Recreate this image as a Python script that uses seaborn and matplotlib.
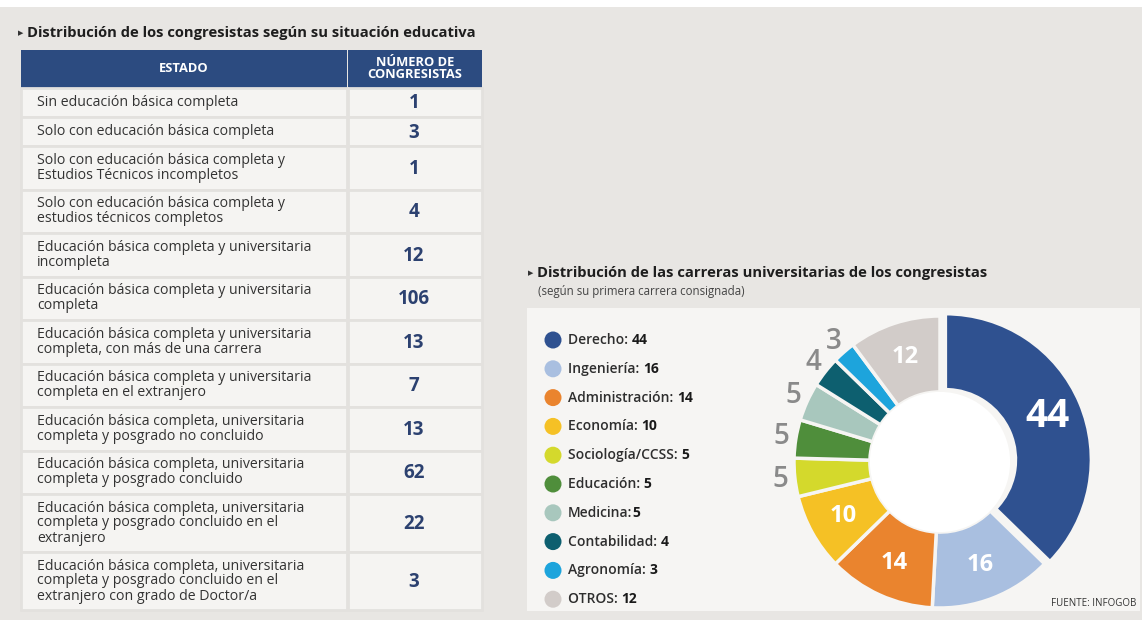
import numpy as np
import matplotlib
matplotlib.use("Agg")
import matplotlib.pyplot as plt
from matplotlib.patches import Rectangle, Circle
import seaborn as sns


# Tabla: situación educativa
titulo_tabla = "Distribución de los congresistas según su situación educativa"
header_estado = "ESTADO"
header_numero = "NÚMERO DE\nCONGRESISTAS"
estados = [
    "Sin educación básica completa",
    "Solo con educación básica completa",
    "Solo con educación básica completa y\nEstudios Técnicos incompletos",
    "Solo con educación básica completa y\nestudios técnicos completos",
    "Educación básica completa y universitaria\nincompleta",
    "Educación básica completa y universitaria\ncompleta",
    "Educación básica completa y universitaria\ncompleta, con más de una carrera",
    "Educación básica completa y universitaria\ncompleta en el extranjero",
    "Educación básica completa, universitaria\ncompleta y posgrado no concluido",
    "Educación básica completa, universitaria\ncompleta y posgrado concluido",
    "Educación básica completa, universitaria\ncompleta y posgrado concluido en el\nextranjero",
    "Educación básica completa, universitaria\ncompleta y posgrado concluido en el\nextranjero con grado de Doctor/a",
]
congresistas = [1, 3, 1, 4, 12, 106, 13, 7, 13, 62, 22, 3]

# Dona: carreras universitarias
titulo_dona = "Distribución de las carreras universitarias de los congresistas"
subtitulo_dona = "(según su primera carrera consignada)"
carreras = ["Derecho: ", "Ingeniería: ", "Administración: ", "Economía: ",
            "Sociología/CCSS: ", "Educación: ", "Medicina:", "Contabilidad: ",
            "Agronomía: ", "OTROS: "]
num_carrera = [44, 16, 14, 10, 5, 5, 5, 4, 3, 12]
carrera_colors = ["#2f5190", "#a9bfe0", "#ea842e", "#f5c125", "#d4d92c",
                  "#4f8e3b", "#a8c7bd", "#0d5f6f", "#1da4dc", "#d2ccc9"]
fuente = "FUENTE: INFOGOB"

W, H = 1142, 620
BG = "#e8e6e3"
PANEL = "#f6f5f3"
NAVY = "#2c4b80"

sns.set_theme(style="white")
plt.rcParams["font.family"] = ["Open Sans", "DejaVu Sans"]

fig = plt.figure(figsize=(W / 100, H / 100), dpi=100)
fig.patch.set_facecolor(BG)

# pixel-coordinate canvas
ax = fig.add_axes([0, 0, 1, 1])
ax.set_xlim(0, W)
ax.set_ylim(H, 0)
ax.axis("off")
ax.add_patch(Rectangle((0, 0), W, 7, color="white", lw=0))

# ---- tabla ----
ax.text(18, 33, "\u25B6", fontsize=5, color="#333333", va="center",
        family=["DejaVu Sans"])
ax.text(27, 33, titulo_tabla, fontsize=10.6, fontweight="bold",
        color="#1e1e1e", va="center")

ax.barh(69, 326, height=38, left=21, color=NAVY, lw=0)
ax.barh(69, 134, height=38, left=348, color=NAVY, lw=0)
ax.text(184, 69, header_estado, ha="center", va="center", fontsize=9.3,
        fontweight="bold", color="white")
ax.text(415, 69, header_numero, ha="center", va="center", fontsize=9.3,
        fontweight="bold", color="white", linespacing=0.9)

n_lines = np.array([e.count("\n") + 1 for e in estados])
row_h = 14.5 * (n_lines + 1)
row_top = 88 + np.concatenate([[0], np.cumsum(row_h)[:-1]])
row_mid = row_top + row_h / 2

cell_kw = dict(color="#f5f4f2", edgecolor="#e3e1de", linewidth=2)
ax.barh(row_mid, 326, height=row_h, left=21, **cell_kw)
ax.barh(row_mid, 134, height=row_h, left=348, **cell_kw)

for y, e, n in zip(row_mid, estados, congresistas):
    ax.text(37, y, e, ha="left", va="center", fontsize=10.2,
            color="#333333", linespacing=1.0)
    ax.text(414, y + 1, str(n), ha="center", va="center", fontsize=13.5,
            fontweight="bold", color="#2c4170")

# ---- dona ----
ax.text(528, 273, "\u25B6", fontsize=5, color="#333333", va="center",
        family=["DejaVu Sans"])
ax.text(537, 273, titulo_dona, fontsize=10.6, fontweight="bold",
        color="#1e1e1e", va="center")
ax.text(538, 292, subtitulo_dona, fontsize=8.3, color="#444444",
        va="center")

ax.add_patch(Rectangle((527, 308), 613, 303, color=PANEL, lw=0))

leg_y = 340 + 28.8 * np.arange(len(carreras))
sns.scatterplot(x=np.full(len(carreras), 553), y=leg_y, hue=carreras,
                palette=carrera_colors, s=150, linewidth=0, legend=False,
                ax=ax)
ax.set_xlim(0, W)
ax.set_ylim(H, 0)
ax.axis("off")
for y, name, n in zip(leg_y, carreras, num_carrera):
    t = ax.text(568, y, name, ha="left", va="center", fontsize=10,
                fontweight="semibold", color="#2e2e2e")
    ax.annotate(str(n), xy=(1, 0.5), xycoords=t, ha="left", va="center",
                fontsize=10, fontweight="bold", color="#1a1a1a")

ax.text(1136, 604, fuente, ha="right", va="center", fontsize=7,
        color="#333333")

R = 146
cx, cy = 940, 462
L = 1.35
S = 2 * L * R
ax_p = fig.add_axes([(cx - S / 2) / W, (H - cy - S / 2) / H, S / W, S / H])
explode = [0.04] + [0] * (len(num_carrera) - 1)
wedges, _ = ax_p.pie(num_carrera, colors=carrera_colors, startangle=90,
                     counterclock=False, explode=explode,
                     wedgeprops=dict(width=0.52, edgecolor=PANEL, linewidth=2.5))
ax_p.add_patch(Circle((0, 0), 0.48, color="white", lw=0))
ax_p.set_xlim(-L, L)
ax_p.set_ylim(-L, L)
ax_p.set_aspect("equal")
ax_p.axis("off")

for w, n in zip(wedges, num_carrera):
    ang = np.deg2rad((w.theta1 + w.theta2) / 2)
    x0, y0 = w.center
    if n >= 10:
        r = 0.76
        size = 28 if n > 40 else 17
        ax_p.text(x0 + r * np.cos(ang), y0 + r * np.sin(ang), str(n),
                  ha="center", va="center", fontsize=size,
                  fontweight="bold", color="white")
    else:
        r = 1.1
        ax_p.text(x0 + r * np.cos(ang), y0 + r * np.sin(ang), str(n),
                  ha="center", va="center", fontsize=20,
                  fontweight="semibold", color="#8a8a8a")

fig.savefig("out.png", dpi=100, facecolor=fig.get_facecolor())
